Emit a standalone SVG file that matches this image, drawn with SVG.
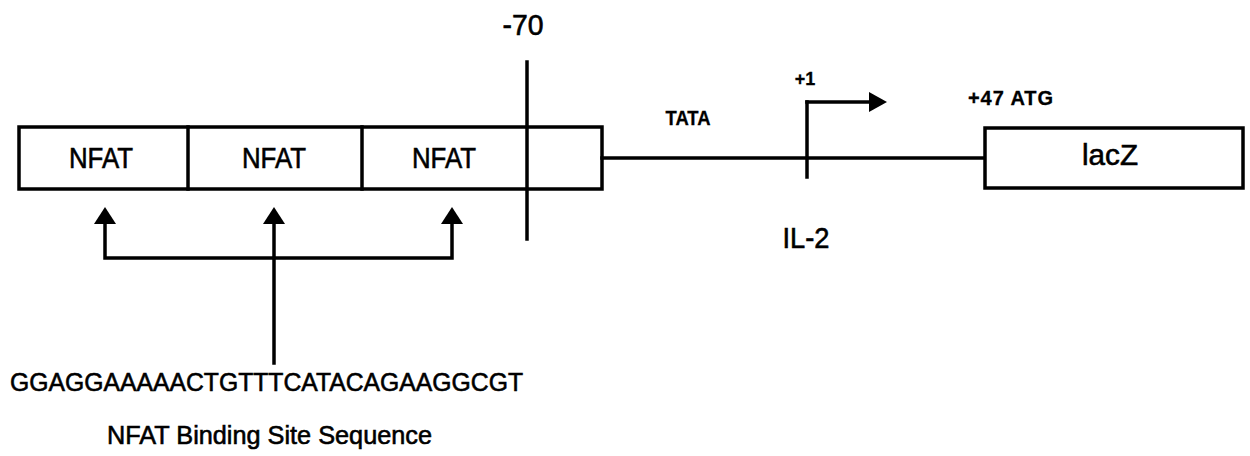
<svg xmlns="http://www.w3.org/2000/svg" width="1250" height="456" viewBox="0 0 1250 456">
<style>
.ln{stroke:#000;stroke-width:3.5;fill:none;stroke-linecap:square}
.box{stroke:#000;stroke-width:3.5;fill:#fff}
.ah{fill:#000;stroke:none}
.t{font-family:"Liberation Sans",Arial,Helvetica,sans-serif;fill:#000;stroke:#000;stroke-width:0.6}
.b{font-weight:bold;stroke-width:0.3}
</style>
<rect width="1250" height="456" fill="#fff"/>
<g id="construct">
<rect id="promoter-box" class="box" x="19" y="127" width="583" height="62"/>
<g id="nfat1">
<line class="ln" x1="188" y1="127" x2="188" y2="189"/>
<text class="t" x="101" y="168" font-size="29" text-anchor="middle" textLength="64" lengthAdjust="spacingAndGlyphs">NFAT</text>
</g>
<g id="nfat2">
<line class="ln" x1="362" y1="127" x2="362" y2="189"/>
<text class="t" x="274" y="168" font-size="29" text-anchor="middle" textLength="64" lengthAdjust="spacingAndGlyphs">NFAT</text>
</g>
<g id="nfat3">
<text class="t" x="444" y="168" font-size="29" text-anchor="middle" textLength="64" lengthAdjust="spacingAndGlyphs">NFAT</text>
</g>
</g>
<g id="marker-70">
<line class="ln" x1="527" y1="62" x2="527" y2="239"/>
<text class="t" x="523" y="35" font-size="29" text-anchor="middle" textLength="41" lengthAdjust="spacingAndGlyphs">-70</text>
</g>
<g id="il2-promoter">
<line class="ln" x1="602" y1="158" x2="985" y2="158"/>
<text class="t b" x="688" y="125" font-size="20" text-anchor="middle" textLength="45" lengthAdjust="spacingAndGlyphs">TATA</text>
<text class="t" x="806" y="248" font-size="29" text-anchor="middle" textLength="47" lengthAdjust="spacingAndGlyphs">IL-2</text>
</g>
<g id="start-site">
<line class="ln" x1="807" y1="177" x2="807" y2="102"/>
<line class="ln" x1="807" y1="102" x2="872" y2="102"/>
<polygon class="ah" points="887,102 869,92 869,112"/>
<text class="t b" x="805" y="85" font-size="18" text-anchor="middle">+1</text>
</g>
<g id="lacZ">
<rect class="box" x="985" y="128" width="258" height="60"/>
<text class="t" x="1110" y="165" font-size="30" text-anchor="middle" textLength="56" lengthAdjust="spacingAndGlyphs">lacZ</text>
<text class="t b" x="968" y="105" font-size="20" textLength="85" lengthAdjust="spacing">+47 ATG</text>
</g>
<g id="connectors">
<polyline class="ln" points="105,222 105,258 452,258 452,222"/>
<line class="ln" x1="274" y1="222" x2="274" y2="363"/>
<polygon class="ah" points="105,207 94,224 116,224"/>
<polygon class="ah" points="274,207 263,224 285,224"/>
<polygon class="ah" points="452,207 441,224 463,224"/>
</g>
<g id="sequence">
<text class="t" x="10" y="391" font-size="26" textLength="513" lengthAdjust="spacingAndGlyphs">GGAGGAAAAACTGTTTCATACAGAAGGCGT</text>
<text class="t" x="107" y="444" font-size="26" textLength="325" lengthAdjust="spacingAndGlyphs">NFAT Binding Site Sequence</text>
</g>
</svg>
